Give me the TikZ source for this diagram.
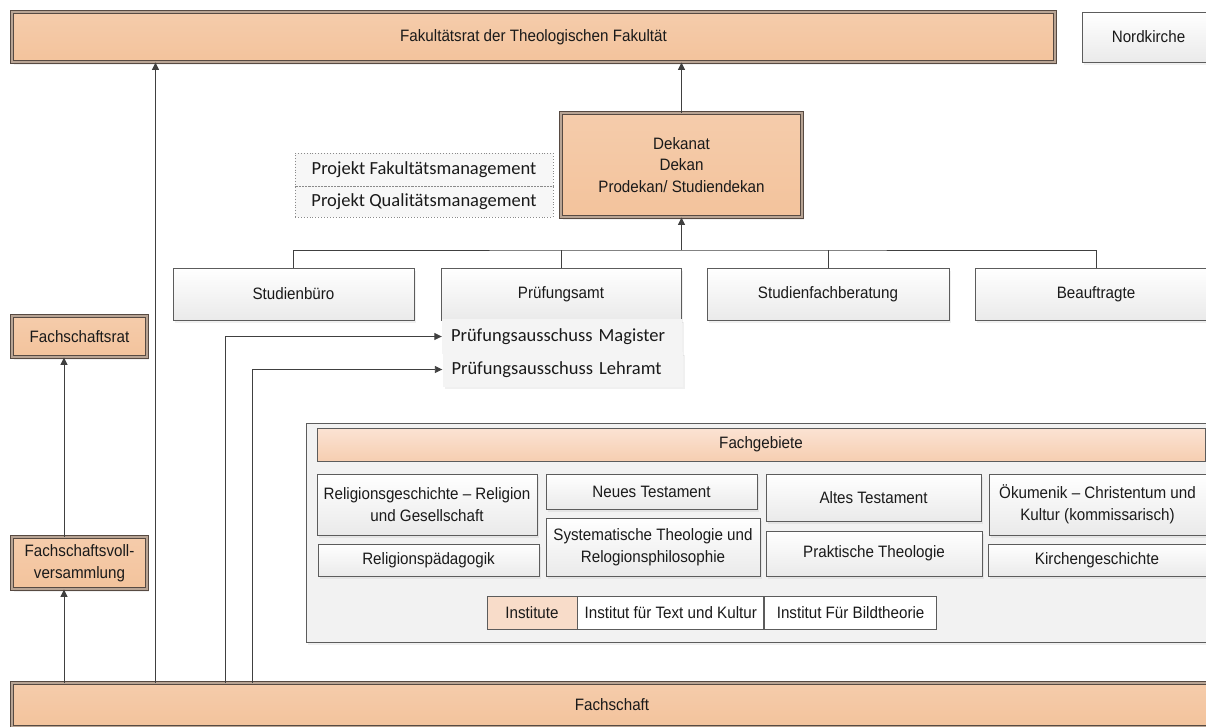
\documentclass[tikz,border=0pt]{standalone}
\usepackage{fontspec}
\setmainfont{Liberation Sans}[FakeStretch=0.92]
\newfontfamily\califont{Carlito}
\usetikzlibrary{positioning, arrows.meta, calc, shadows}
\definecolor{clrline}{HTML}{404040}
\definecolor{clrtext}{HTML}{1A1A1A}
\definecolor{clrborder}{HTML}{574A42}
\definecolor{clrorange_rim}{HTML}{B8A494}
\definecolor{clrorange_top}{HTML}{F5CCAB}
\definecolor{clrorange_mid}{HTML}{F3D8C3}
\definecolor{clrorange_bot}{HTML}{F3C39C}
\definecolor{clrhead_top}{HTML}{FBE3D3}
\definecolor{clrhead_bot}{HTML}{F6CEB1}
\definecolor{clrinst}{HTML}{F8DCC9}
\definecolor{clrgrey}{HTML}{5C5C5C}
\definecolor{clrwhite_bot}{HTML}{EAEAEA}
\definecolor{clrgroup_fill}{HTML}{F2F2F2}
\definecolor{clrproj}{HTML}{F7F7F7}
\definecolor{clrdots}{HTML}{8A8A8A}
\definecolor{clrpa_fill}{HTML}{F4F4F4}

\begin{document}
\begin{tikzpicture}[
    x=1pt, y=-1pt,
    >={Triangle[length=7.5pt,width=7pt]},
    every node/.style={font=\fontsize{16.5}{21.5}\selectfont, text=clrtext},
    softshadow/.style={drop shadow={opacity=0.12, shadow xshift=2pt, shadow yshift=-2.5pt}},
    orgbox/.style={draw=clrborder, line width=0.9pt, double=clrorange_rim, double distance=1.4pt,
                   top color=clrorange_top, middle color=clrorange_mid, bottom color=clrorange_bot,
                   inner sep=0pt, align=center, softshadow},
    unitbox/.style={draw=clrgrey, line width=0.8pt, top color=white, bottom color=clrwhite_bot,
                    inner sep=0pt, align=center, softshadow},
    projbox/.style={draw=clrdots, dotted, line width=0.9pt, fill=clrproj, inner sep=0pt,
                    font=\califont\fontsize{18.5}{22}\selectfont},
    pabox/.style={fill=clrpa_fill, inner sep=9pt, text width=222pt, align=left,
                  font=\califont\fontsize{18.5}{22}\selectfont, softshadow},
    instbox/.style={draw=clrgrey, line width=0.8pt, fill=white, inner sep=0pt, minimum height=33pt},
    arrow/.style={->, color=clrline, line width=0.9pt},
    line/.style={color=clrline, line width=0.9pt},
]
\useasboundingbox (0,0) rectangle (1206,726);
\node[orgbox, minimum width=1043pt, minimum height=50pt] (fakrat) at (533.5,37) {Fakultätsrat der Theologischen Fakultät};
\node[unitbox, minimum width=133pt, minimum height=50pt] (nord) at (1148.5,37) {Nordkirche};
\node[orgbox, minimum width=241pt, minimum height=104pt] (dekanat) at (681.5,165) {Dekanat\\Dekan\\Prodekan/ Studiendekan};
\node[projbox, minimum width=258pt, minimum height=33pt] (projfak) at (424,169.5) {Projekt Fakultätsmanagement};
\node[projbox, minimum width=258pt, minimum height=31pt] (projqual) at (424,201.5) {Projekt Qualitätsmanagement};
\node[unitbox, minimum width=241pt, minimum height=52pt] (stbuero) at (293.5,294) {Studienbüro};
\node[unitbox, minimum width=240pt, minimum height=52pt] (pramt) at (561,294) {Prüfungsamt};
\node[unitbox, minimum width=242pt, minimum height=52pt] (sfb) at (828,294) {Studienfachberatung};
\node[unitbox, minimum width=242pt, minimum height=52pt] (beauf) at (1096,294) {Beauftragte};
\node[pabox, minimum height=23pt] (magister) at (562,336.5) {Prüfungsausschuss Magister};
\node[pabox, minimum height=23pt] (lehramt) at (562.5,369.5) {Prüfungsausschuss Lehramt};
\node[orgbox, minimum width=135pt, minimum height=41pt] (fsrat) at (79.5,336.5) {Fachschaftsrat};
\node[orgbox, minimum width=135pt, minimum height=52pt] (fsvoll) at (79.5,563) {Fachschaftsvoll-\\versammlung};
\node[orgbox, minimum width=1200pt, minimum height=44pt] (fschaft) at (612,705) {Fachschaft};
\node[draw=clrgrey, line width=0.8pt, fill=clrgroup_fill, softshadow, minimum width=906pt, minimum height=219pt] (fachgeb) at (759,532.5) {};
\node[draw=clrgrey, line width=0.8pt, top color=clrhead_top, bottom color=clrhead_bot, inner sep=0pt, minimum width=888pt, minimum height=33pt] (fghead) at (761,444.5) {Fachgebiete};
\node[unitbox, minimum width=220pt, minimum height=61pt] (relgesch) at (427,504.5) {Religionsgeschichte – Religion\\und Gesellschaft};
\node[unitbox, minimum width=221pt, minimum height=32pt] (relpaed) at (428.5,560) {Religionspädagogik};
\node[unitbox, minimum width=211pt, minimum height=35pt] (neutest) at (651.5,491.5) {Neues Testament};
\node[unitbox, minimum width=214pt, minimum height=58pt] (systheo) at (653,547) {Systematische Theologie und\\Relogionsphilosophie};
\node[unitbox, minimum width=215pt, minimum height=47pt] (alttest) at (873.5,497.5) {Altes Testament};
\node[unitbox, minimum width=216pt, minimum height=45pt] (praktheo) at (874,553.5) {Praktische Theologie};
\node[unitbox, minimum width=217pt, minimum height=61pt] (oekum) at (1097.5,504.5) {Ökumenik – Christentum und\\Kultur (kommissarisch)};
\node[unitbox, minimum width=218pt, minimum height=32pt] (kirchg) at (1097,560) {Kirchengeschichte};
\node[instbox, fill=clrinst, minimum width=90pt] (inst) at (532,612.5) {Institute};
\node[instbox, minimum width=186pt, right=0pt of inst] (itk) {Institut für Text und Kultur};
\node[instbox, minimum width=172pt, right=0pt of itk] (ibt) {Institut Für Bildtheorie};
\draw[line, dotted, clrdots] (projfak.south west) -- (projfak.south east);
\coordinate (bus) at (681.5,250);
\coordinate (lnA) at (64,0);
\coordinate (lnB) at (155.5,0);
\coordinate (lnC) at (225.5,0);
\coordinate (lnD) at (252.5,0);
\draw[arrow] (dekanat.north) -- (dekanat.north |- fakrat.south);
\draw[arrow] (bus) -- (dekanat.south);
\draw[line] (stbuero.north) |- (bus) -| (beauf.north);
\draw[line] (bus -| pramt.north) -- (pramt.north);
\draw[line] (bus -| sfb.north) -- (sfb.north);
\draw[arrow] (lnB |- fschaft.north) -- (lnB |- fakrat.south);
\draw[arrow] (lnA |- fschaft.north) -- (lnA |- fsvoll.south);
\draw[arrow] (lnA |- fsvoll.north) -- (lnA |- fsrat.south);
\draw[arrow] (lnC |- fschaft.north) |- (magister.west);
\draw[arrow] (lnD |- fschaft.north) |- (lehramt.west);
\end{tikzpicture}
\end{document}
